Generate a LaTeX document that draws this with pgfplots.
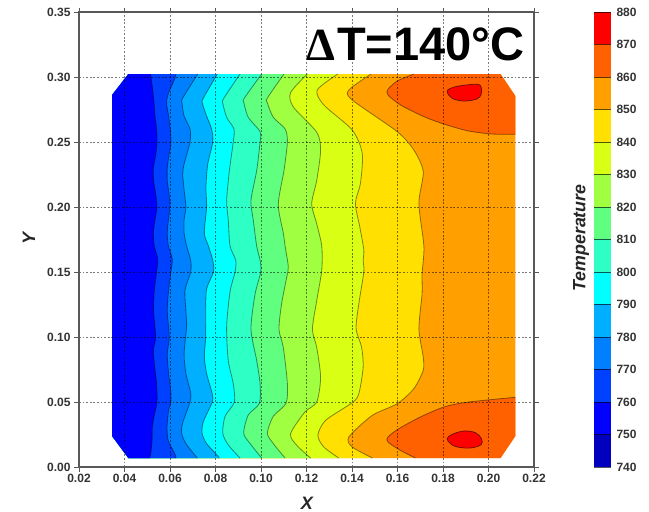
\documentclass[border=0pt]{standalone}
\usepackage{pgfplots}
\pgfplotsset{compat=1.18}
\usepackage{fontspec}
\setmainfont{Liberation Sans}
\newfontfamily\symfont{Liberation Serif}
\definecolor{c740}{HTML}{0000BE}
\definecolor{c750}{HTML}{0000FF}
\definecolor{c760}{HTML}{0040FF}
\definecolor{c770}{HTML}{0080FF}
\definecolor{c780}{HTML}{00AFFF}
\definecolor{c790}{HTML}{00FFFF}
\definecolor{c800}{HTML}{2EFFC4}
\definecolor{c810}{HTML}{60FF80}
\definecolor{c820}{HTML}{A0FF40}
\definecolor{c830}{HTML}{D8FF14}
\definecolor{c840}{HTML}{FFE000}
\definecolor{c850}{HTML}{FFA000}
\definecolor{c860}{HTML}{FF6000}
\definecolor{c870}{HTML}{FF0000}
\definecolor{frame}{HTML}{585858}
% band: colour, contour from top to bottom; filled to the left edge of the domain
\newcommand{\band}[2]{%
  \edef\tmpcmd{\noexpand\addplot[fill=#1,draw=none,smooth,tension=.45,forget plot] coordinates {#2} -- (axis cs:.0417,.0069) -- (axis cs:.0346,.0237) -- (axis cs:.0346,.2862) -- (axis cs:.0417,.3023) -- cycle;
  \noexpand\addplot[draw=black,draw opacity=.45,line width=.8pt,smooth,tension=.45,no marks,forget plot] coordinates {#2};}%
  \tmpcmd
}
\newcommand{\ctr}[1]{%
  \addplot[draw=black,draw opacity=.45,line width=.8pt,smooth,tension=.45,no marks,forget plot] coordinates {#1};
}
\def\Ceightfifty{(.1484,.3023)(.1386,.29)(.1401,.2823)(.1599,.2579)(.1672,.2438)(.1713,.2272)(.1694,.2028)(.1716,.1695)(.1708,.1487)(.1708,.1333)(.1694,.1064)(.1713,.0846)(.1713,.0744)(.1672,.0603)(.1599,.0487)(.1489,.0397)(.1386,.0231)(.1401,.0154)(.149,.0069)}
\def\Ceightforty{(.1338,.3023)(.1247,.29)(.1276,.2785)(.1401,.2592)(.1445,.2413)(.1437,.2182)(.1415,.2028)(.1434,.1849)(.1452,.1669)(.1449,.159)(.1452,.15)(.143,.1256)(.1418,.1064)(.1442,.0923)(.1449,.0769)(.143,.0564)(.1401,.0495)(.1284,.0359)(.125,.0244)(.1276,.0154)(.1342,.0069)}
\def\Ceightthirty{(.1204,.3023)(.113,.288)(.1142,.277)(.1245,.2575)(.1262,.2435)(.1245,.2205)(.1223,.2025)(.1245,.187)(.1267,.17)(.1267,.1513)(.1245,.128)(.1226,.106)(.1245,.092)(.1262,.069)(.1245,.05)(.1193,.0423)(.113,.0256)(.1157,.0167)(.1218,.0069)}
\def\Ceighttwenty{(.1101,.3023)(.1028,.2838)(.1028,.28)(.1054,.269)(.1106,.26)(.1116,.25)(.1101,.228)(.1076,.202)(.1098,.18)(.1106,.17)(.112,.154)(.1113,.146)(.1091,.126)(.1079,.106)(.1098,.092)(.1116,.064)(.111,.049)(.1054,.039)(.1028,.026)(.1054,.018)(.1106,.0069)}
\def\Ceightten{(.1003,.3023)(.0927,.2838)(.0925,.28)(.0944,.269)(.0996,.258)(.0996,.25)(.0981,.228)(.0956,.205)(.0966,.19)(.0981,.17)(.0996,.159)(.0999,.15)(.0974,.133)(.0956,.106)(.0981,.082)(.0996,.064)(.0993,.049)(.0944,.04)(.0924,.026)(.0952,.018)(.1003,.0069)}
\def\Ceightzero{(.0908,.3023)(.0837,.2838)(.0832,.28)(.0849,.269)(.0881,.26)(.0878,.25)(.0861,.228)(.0849,.205)(.0856,.19)(.0864,.17)(.0889,.159)(.0886,.15)(.0864,.135)(.0849,.108)(.0856,.082)(.0878,.064)(.0883,.05)(.0842,.039)(.0832,.026)(.0856,.017)(.0908,.0069)}
\def\Cnineone{(.0808,.3023)(.0747,.2838)(.0742,.28)(.0761,.27)(.0783,.26)(.0788,.25)(.0766,.233)(.0758,.215)(.0761,.20)(.0751,.18)(.0769,.17)(.0788,.159)(.0791,.15)(.0761,.137)(.0757,.12)(.0757,.10)(.0751,.085)(.0761,.072)(.0786,.056)(.0786,.05)(.0747,.035)(.0741,.026)(.0761,.018)(.0808,.009)(.0817,.0069)}
\def\Cnineeight{(.0722,.3023)(.0656,.2838)(.0653,.28)(.0662,.27)(.0688,.26)(.0688,.25)(.0662,.233)(.0656,.225)(.0664,.21)(.067,.20)(.0662,.19)(.0662,.18)(.0673,.17)(.0691,.159)(.0691,.15)(.0666,.136)(.067,.12)(.0673,.108)(.0662,.087)(.067,.072)(.0691,.057)(.0688,.05)(.0656,.034)(.0651,.026)(.067,.018)(.072,.0069)}
\def\Cninesev{(.0625,.3023)(.0622,.299)(.0593,.2875)(.0585,.28)(.0594,.27)(.0601,.26)(.0604,.25)(.0596,.24)(.0588,.23)(.0588,.22)(.0596,.21)(.06,.20)(.0593,.19)(.0588,.18)(.0593,.17)(.061,.16)(.0604,.15)(.0594,.136)(.0588,.12)(.0597,.10)(.0588,.087)(.0594,.072)(.0603,.059)(.0604,.05)(.0594,.044)(.0587,.03)(.0593,.02)(.0622,.01)(.0626,.0069)}
\def\Cninesix{(.0515,.3023)(.0524,.29)(.053,.28)(.0534,.27)(.0541,.26)(.0543,.25)(.0537,.24)(.0527,.23)(.0528,.22)(.0537,.21)(.0543,.20)(.0534,.19)(.0527,.18)(.0531,.17)(.0546,.16)(.0541,.15)(.0531,.136)(.0528,.12)(.0537,.10)(.0527,.09)(.0531,.08)(.0541,.064)(.0543,.05)(.0531,.04)(.0522,.03)(.0521,.02)(.0515,.01)(.0509,.0069)}
\begin{document}
\begin{tikzpicture}[x=1pt,y=1pt]
\path[use as bounding box] (0,0) rectangle (649,512);
\begin{axis}[
  at={(79pt,45pt)},anchor=south west,
  scale only axis,width=455pt,height=455pt,
  xmin=0.02,xmax=0.22,ymin=0,ymax=0.35,
  xtick={0.02,0.04,...,0.221},ytick={0,0.05,...,0.351},
  axis on top,
  grid=major,
  grid style={black,opacity=.52,dash pattern=on 1.8pt off 1.8pt,line width=.6pt},
  axis line style={frame,line width=1.1pt},
  tick style={frame,line width=.9pt},
  tick align=outside,major tick length=4.5pt,
  tick label style={font=\fontsize{12}{13}\selectfont\bfseries,text=black!80,
    /pgf/number format/fixed,/pgf/number format/fixed zerofill,
    /pgf/number format/precision=2,/pgf/number format/assume math mode=true},
  xticklabel style={yshift=1pt},
  yticklabel style={xshift=-.5pt},
  clip=false,
]
% domain base
\addplot[fill=c850,draw=none,forget plot] coordinates {(.0417,.3023)(.2053,.3023)(.2118,.2854)(.2118,.0238)(.2053,.0069)(.0417,.0069)(.0346,.0237)(.0346,.2862)};
% 860 regions
\addplot[fill=c860,draw=none,smooth,tension=.45,forget plot] coordinates {(.1672,.3023)(.1599,.2969)(.1558,.2905)(.1558,.2862)(.1613,.2785)(.1716,.2695)(.1804,.2638)(.1906,.2587)(.2009,.2562)(.2118,.2559)} -- (axis cs:.2118,.2854) -- (axis cs:.2053,.3023) -- cycle;
\ctr{(.1672,.3023)(.1599,.2969)(.1558,.2905)(.1558,.2862)(.1613,.2785)(.1716,.2695)(.1804,.2638)(.1906,.2587)(.2009,.2562)(.2118,.2559)}
\addplot[fill=c860,draw=none,smooth,tension=.45,forget plot] coordinates {(.1679,.0069)(.1613,.0128)(.1558,.0192)(.1558,.0231)(.1606,.0295)(.1701,.0385)(.1804,.0462)(.1892,.0495)(.2009,.0518)(.2118,.0536)} -- (axis cs:.2118,.0238) -- (axis cs:.2053,.0069) -- cycle;
\ctr{(.1679,.0069)(.1613,.0128)(.1558,.0192)(.1558,.0231)(.1606,.0295)(.1701,.0385)(.1804,.0462)(.1892,.0495)(.2009,.0518)(.2118,.0536)}
% 870 regions
\addplot[fill=c870,draw=black,draw opacity=.6,line width=.7pt,smooth cycle,tension=.6,forget plot] coordinates {(.1818,.2887)(.1833,.2913)(.1877,.2933)(.195,.2944)(.1968,.292)(.1968,.2869)(.195,.2831)(.1892,.2815)(.184,.2836)};
\addplot[fill=c870,draw=black,draw opacity=.6,line width=.7pt,smooth cycle,tension=.6,forget plot] coordinates {(.1818,.0218)(.184,.0251)(.1892,.0277)(.1943,.0264)(.1969,.0218)(.1968,.0172)(.1921,.0146)(.1862,.0154)(.1833,.0179)};
% contour bands
\band{c840}{\Ceightfifty}
\band{c830}{\Ceightforty}
\band{c820}{\Ceightthirty}
\band{c810}{\Ceighttwenty}
\band{c800}{\Ceightten}
\band{c790}{\Ceightzero}
\band{c780}{\Cnineone}
\band{c770}{\Cnineeight}
\band{c760}{\Cninesev}
\band{c750}{\Cninesix}
\end{axis}
% colour bar
\begin{axis}[
  at={(594pt,45pt)},anchor=south west,
  scale only axis,width=17pt,height=455pt,
  xmin=0,xmax=1,ymin=740,ymax=880,
  xtick=\empty,ytick={740,750,...,880},
  yticklabel pos=right,
  axis on top,
  ymajorgrids,
  grid style={black,opacity=.65,line width=.8pt},
  axis line style={draw=none},
  major tick length=0pt,
  tick label style={font=\fontsize{12}{13}\selectfont\bfseries,text=black!80,
    /pgf/number format/assume math mode=true,/pgf/number format/1000 sep={}},
  yticklabel style={xshift=2pt},
  clip=false,
]
\addplot[fill=c740,draw=none] coordinates {(0,740)(1,740)(1,750)(0,750)};
\addplot[fill=c750,draw=none] coordinates {(0,750)(1,750)(1,760)(0,760)};
\addplot[fill=c760,draw=none] coordinates {(0,760)(1,760)(1,770)(0,770)};
\addplot[fill=c770,draw=none] coordinates {(0,770)(1,770)(1,780)(0,780)};
\addplot[fill=c780,draw=none] coordinates {(0,780)(1,780)(1,790)(0,790)};
\addplot[fill=c790,draw=none] coordinates {(0,790)(1,790)(1,800)(0,800)};
\addplot[fill=c800,draw=none] coordinates {(0,800)(1,800)(1,810)(0,810)};
\addplot[fill=c810,draw=none] coordinates {(0,810)(1,810)(1,820)(0,820)};
\addplot[fill=c820,draw=none] coordinates {(0,820)(1,820)(1,830)(0,830)};
\addplot[fill=c830,draw=none] coordinates {(0,830)(1,830)(1,840)(0,840)};
\addplot[fill=c840,draw=none] coordinates {(0,840)(1,840)(1,850)(0,850)};
\addplot[fill=c850,draw=none] coordinates {(0,850)(1,850)(1,860)(0,860)};
\addplot[fill=c860,draw=none] coordinates {(0,860)(1,860)(1,870)(0,870)};
\addplot[fill=c870,draw=none] coordinates {(0,870)(1,870)(1,880)(0,880)};
\end{axis}
% text
\node[anchor=base west,inner sep=0pt,font=\fontsize{46}{46}\selectfont\symfont\bfseries] at (306.5,451) {Δ};
\node[anchor=base west,inner sep=0pt,font=\fontsize{47}{47}\selectfont\bfseries] at (337,451) {T=140°C};
\node[font=\fontsize{18}{18}\selectfont\bfseries\itshape,text=black!85] at (307,9) {X};
\node[font=\fontsize{18}{18}\selectfont\bfseries\itshape,text=black!85,rotate=90] at (29,274) {Y};
\node[font=\fontsize{17.8}{18}\selectfont\bfseries\itshape,text=black!85,rotate=90] at (581,274) {Temperature};
\end{tikzpicture}
\end{document}
